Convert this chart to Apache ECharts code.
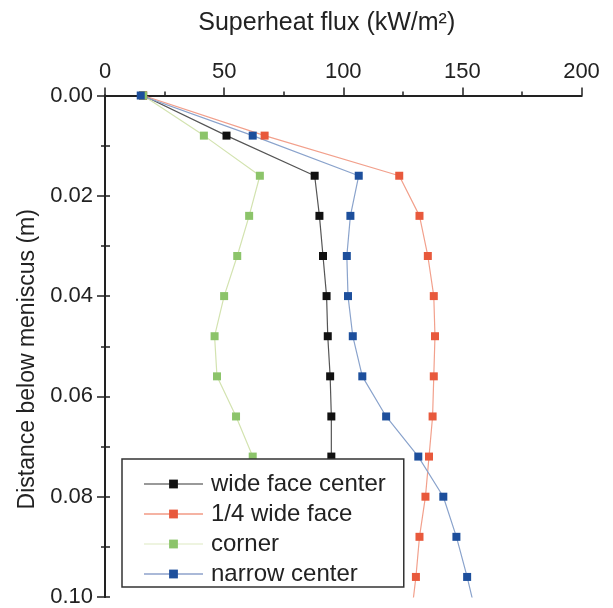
<!DOCTYPE html>
<html><head><meta charset="utf-8">
<script src="https://cdn.jsdelivr.net/npm/echarts@6/dist/echarts.min.js"></script>
<style>html,body{margin:0;padding:0;background:#fff}#c{width:613px;height:608px}</style>
</head><body><div id="c"></div>
<script>
const depth = [0, 0.008, 0.016, 0.024, 0.032, 0.040, 0.048, 0.056, 0.064, 0.072, 0.080, 0.088, 0.096, 0.104];
const wideFaceCenter = [16, 51, 88, 90, 91.5, 93, 93.5, 94.5, 95, 95];
const quarterWideFace = [16, 67, 123.5, 132, 135.5, 138, 138.5, 138, 137.5, 136, 134.5, 132, 130.5, 128.5];
const corner = [16, 41.5, 65, 60.5, 55.5, 50, 46, 47, 55, 62];
const narrowCenter = [15, 62, 106.5, 103, 101.5, 102, 104, 108, 118, 131.5, 142, 147.5, 152, 156];
const names = ['wide face center', '1/4 wide face', 'corner', 'narrow center'];
const xTicks = [0, 50, 100, 150, 200];

function pairs(vals){ return vals.map((v,i)=>[v, depth[i]]); }
const font = 'Liberation Sans, Arial, sans-serif';
const chart = echarts.init(document.getElementById('c'));
const mk = (name, vals, lineColor, markColor) => ({
  name, type: 'line', data: pairs(vals), xAxisIndex: 0, yAxisIndex: 0,
  symbol: 'rect', symbolSize: 8, clip: true,
  lineStyle: {color: lineColor, width: 1.2},
  itemStyle: {color: markColor},
  emphasis: {disabled: true}
});
chart.setOption({
  animation: false,
  grid: {left: 105, right: 31.5, top: 95.5, bottom: 11, containLabel: false},
  xAxis: [{
    type: 'value', position: 'top', min: xTicks[0], max: xTicks[xTicks.length-1], interval: 50,
    name: 'Superheat flux (kW/m²)', nameLocation: 'middle', nameGap: 60,
    nameTextStyle: {fontFamily: font, fontSize: 25, color: '#222', padding: [0, 33, 0, 0]},
    axisLine: {show: true, lineStyle: {color: '#222', width: 2}},
    axisTick: {show: true, inside: false, length: 8, lineStyle: {color: '#222', width: 1.5}},
    minorTick: {show: true, splitNumber: 2, length: 4, lineStyle: {color: '#222', width: 1.5}},
    axisLabel: {fontFamily: font, fontSize: 22, color: '#222', margin: 13},
    splitLine: {show: false}, minorSplitLine: {show: false}
  }, {
    type: 'value', position: 'bottom', min: 0, max: 200,
    axisLine: {show: true, lineStyle: {color: '#222', width: 2}},
    axisTick: {show: false}, axisLabel: {show: false}, splitLine: {show: false}
  }],
  yAxis: [{
    type: 'value', inverse: true, min: 0, max: 0.1, interval: 0.02, position: 'left',
    name: 'Distance below meniscus (m)', nameLocation: 'middle', nameGap: 65, nameRotate: 90,
    nameTextStyle: {fontFamily: font, fontSize: 23, color: '#222', padding: [0, 26, 0, 0]},
    axisLine: {show: true, lineStyle: {color: '#222', width: 2}},
    axisTick: {show: true, inside: false, length: 8, lineStyle: {color: '#222', width: 1.5}},
    minorTick: {show: true, splitNumber: 2, length: 4, lineStyle: {color: '#222', width: 1.5}},
    axisLabel: {fontFamily: font, fontSize: 22, color: '#222', margin: 12, formatter: v => v.toFixed(2)},
    splitLine: {show: false}
  }, {
    type: 'value', inverse: true, min: 0, max: 0.1, interval: 0.02, position: 'right',
    axisLine: {show: true, lineStyle: {color: '#222', width: 2}},
    axisTick: {show: true, inside: false, length: 5, lineStyle: {color: '#222', width: 1.5}},
    minorTick: {show: true, splitNumber: 2, length: 5, lineStyle: {color: '#222', width: 1.5}},
    axisLabel: {show: false}, splitLine: {show: false}
  }],
  legend: {
    orient: 'vertical', left: 122, top: 459,
    backgroundColor: '#fff', borderColor: '#333', borderWidth: 1.5, borderRadius: 0,
    padding: [13, 18, 1, 21], itemGap: 6, itemWidth: 59, itemHeight: 11,
    textStyle: {fontFamily: font, fontSize: 24, color: '#222', padding: [0,0,0,3]},
    data: [
      {name: names[0], lineStyle: {color: '#999'}},
      {name: names[1], lineStyle: {color: '#f5b3a3'}},
      {name: names[2], lineStyle: {color: '#eef4e0'}},
      {name: names[3], lineStyle: {color: '#aab9d8'}}
    ],
    selectedMode: false
  },
  series: [
    mk(names[0], wideFaceCenter, '#555', '#111'),
    mk(names[1], quarterWideFace, '#f2a08c', '#e8593c'),
    mk(names[2], corner, '#d3e3b0', '#8cc46a'),
    mk(names[3], narrowCenter, '#8aa3cc', '#1d4f9c')
  ]
});
</script></body></html>
